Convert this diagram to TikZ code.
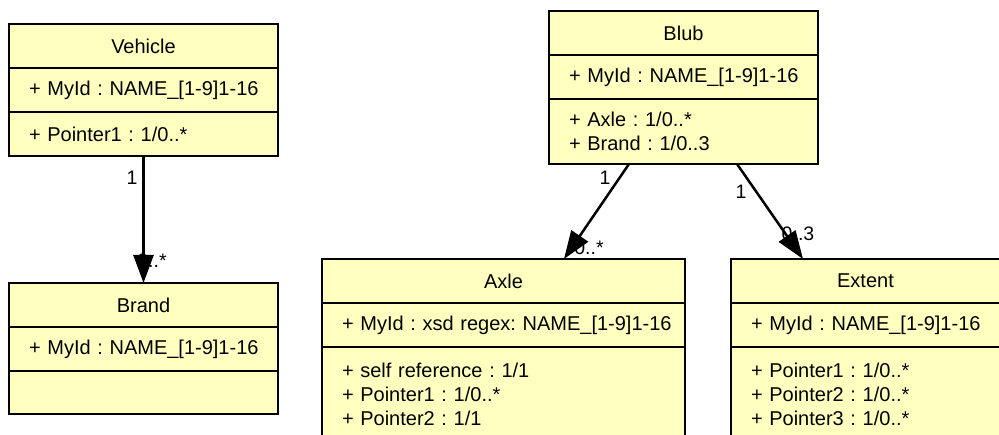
\documentclass[tikz,border=0pt]{standalone}
\usepackage{fontspec}
\setmainfont{Liberation Sans}
\usepackage{xcolor}
\usepackage{tikz}
\usetikzlibrary{arrows.meta,positioning,calc}
\definecolor{classyellow}{HTML}{FFFFC0}
\tikzset{
    classhead/.style={draw=black, fill=classyellow, line width=2pt, minimum height=44pt, inner sep=0pt, outer sep=0pt, font=\fontsize{20}{24}\selectfont\frenchspacing},
    classpart/.style={classhead, align=left, inner xsep=20pt},
    mult/.style={font=\fontsize{19.5}{22}\selectfont, inner sep=0pt},
    assoc/.style={-{Triangle[length=28pt,width=20pt]}, line width=2.5pt}
}
\newcommand{\umlclass}[8]{
    \node[classhead, minimum width=#3, anchor=north west] (#1) at (#2) {#5};
    \node[classpart, minimum width=#3, text width=#4, below=0pt of #1] (#1attr) {\mbox{#6}};
    \node[classpart, minimum width=#3, text width=#4, minimum height=#8, below=0pt of #1attr] (#1ops) {#7};
}

\begin{document}
\begin{tikzpicture}[x=1pt,y=-1pt]
    \useasboundingbox (0,0) rectangle (999,435);
    \clip (0,0) rectangle (999,435);

    \umlclass{vehicle}{9,24}{269pt}{229pt}{Vehicle}{+ MyId : NAME\_[1-9]1-16}{+ Pointer1 : 1/0..*}{44pt}
    \umlclass{brand}{9,283}{269pt}{229pt}{Brand}{+ MyId : NAME\_[1-9]1-16}{}{43pt}
    \umlclass{blub}{549,11}{269pt}{229pt}{Blub}{+ MyId : NAME\_[1-9]1-16}{+ Axle : 1/0..*\\+ Brand : 1/0..3}{65pt}
    \umlclass{axle}{322,259}{363pt}{323pt}{Axle}{+ MyId : xsd regex: NAME\_[1-9]1-16}{+ self reference : 1/1\\+ Pointer1 : 1/0..*\\+ Pointer2 : 1/1}{95pt}
    \umlclass{extent}{731,259}{269pt}{229pt}{Extent}{+ MyId : NAME\_[1-9]1-16}{+ Pointer1 : 1/0..*\\+ Pointer2 : 1/0..*\\+ Pointer3 : 1/0..*}{95pt}

    % multiplicities (drawn first, the arrow heads sit on top)
    \node[mult] (m1) at (132,178) {1};
    \node[mult] (m2) at (152,261) {0..*};
    \node[mult] (m3) at (605,178) {1};
    \node[mult] (m4) at (589,248) {0..*};
    \node[mult] (m5) at (741,192) {1};
    \node[mult] (m6) at (798,234) {0..3};

    \coordinate (axlefrom) at ($(blubops.south west)+(80,0)$);
    \coordinate (axleto) at ($(axle.north west)+(242,0)$);
    \coordinate (extentfrom) at ($(blubops.south west)+(188,0)$);
    \coordinate (extentto) at ($(extent.north west)+(72,0)$);

    \draw[assoc] (vehicleops.south) -- (brand.north);
    \draw[assoc] (axlefrom) -- (axleto);
    \draw[assoc] (extentfrom) -- (extentto);
\end{tikzpicture}
\end{document}
